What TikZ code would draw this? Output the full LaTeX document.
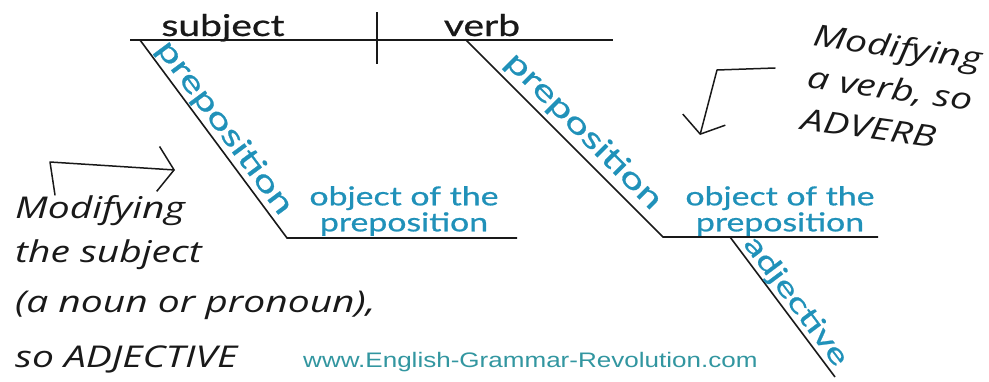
\documentclass[tikz,border=0pt]{standalone}
\usepackage{fontspec}
\newfontfamily\gillfont{Lato}[FakeStretch=1.3, FakeBold=0.8]
\newfontfamily\rotfont{Lato}[FakeStretch=1.4, FakeBold=0.8]
\newfontfamily\handfont{Open Sans}[FakeStretch=1.3]
\newfontfamily\webfont{Liberation Sans}[FakeStretch=1.24]
\usetikzlibrary{arrows.meta}
\definecolor{prepblue}{RGB}{32,145,185}
\definecolor{webteal}{RGB}{50,150,160}
\definecolor{inkblack}{RGB}{25,25,25}

\begin{document}
\begin{tikzpicture}[
  x=1pt, y=-1pt,
  every node/.style={inner sep=0pt},
  diagline/.style={line width=1.6pt, inkblack},
  wordlabel/.style={font=\gillfont\fontsize{30}{32}\selectfont, text=inkblack, anchor=base},
  prepword/.style={font=\rotfont\fontsize{30}{32}\selectfont, text=prepblue},
  objword/.style={font=\gillfont\fontsize{26}{26}\selectfont, text=prepblue, align=center, anchor=south},
  handnote/.style={font=\handfont\itshape\fontsize{30}{44}\selectfont, text=inkblack, align=left},
  handarrow/.style={line width=1.5pt, inkblack, line cap=round, line join=round}
]
\useasboundingbox (0,0) rectangle (989,381);
% Punkte des Diagramms
\coordinate (subjL) at (130,40);
\coordinate (verbR) at (613,40);
\coordinate (divT) at (377,12);
\coordinate (divB) at (377,64);
\coordinate (prepA) at (140,40);
\coordinate (objA) at (287,238);
\coordinate (objAR) at (517,238);
\coordinate (prepB) at (466,40);
\coordinate (objB) at (663,237);
\coordinate (objBR) at (878,237);
\coordinate (adjT) at (730,237);
\coordinate (adjB) at (835,377);
% Grundlinie
\draw[diagline] (subjL) -- (verbR);
\draw[diagline] (divT) -- (divB);
\node[wordlabel] (subject) at (223,36) {subject};
\node[wordlabel] (verb) at (482,36) {verb};
% Praepositionalgruppen
\draw[diagline] (prepA) -- node[prepword, sloped, above=1pt, pos=0.49] (prepAword) {preposition} (objA) -- (objAR);
\draw[diagline] (prepB) -- node[prepword, sloped, above=4pt, pos=0.53] (prepBword) {preposition} (objB) -- (objBR);
\draw[diagline] (adjT) -- node[prepword, sloped, above=0pt, pos=0.52, font=\rotfont\fontsize{28}{30}\selectfont] (adjword) {adjective} (adjB);
\node[objword] (objAtext) at (404,236) {object of the\\preposition};
\node[objword] (objBtext) at (780,236) {object of the\\preposition};
% Notizen
\node[handnote, anchor=north west] (noteA) at (15,195) {Modifying\\the subject\\[6pt](a noun or pronoun),\\[11pt]so ADJECTIVE};
\node[handnote, rotate=-8, font=\handfont\itshape\fontsize{30}{42}\selectfont] (noteB) at (892,88) {Modifying\\a verb, so\\ADVERB};
\coordinate (arrAtail) at (55,195);
\coordinate (arrAbend) at (50,162);
\coordinate (arrAtip) at (175,170);
\draw[handarrow, -{Straight Barb[length=16pt, width=45pt]}] (arrAtail) -- (arrAbend) -- (arrAtip);
\coordinate (arrBtail) at (775,68);
\coordinate (arrBbend) at (717,70);
\coordinate (arrBtip) at (700,135);
\draw[handarrow, -{Straight Barb[length=15pt, width=44pt]}] (arrBtail) -- (arrBbend) -- (arrBtip);
\node[font=\webfont\fontsize{21}{24}\selectfont, text=webteal, anchor=base west] (site) at (303,367) {www.English-Grammar-Revolution.com};
\end{tikzpicture}
\end{document}
